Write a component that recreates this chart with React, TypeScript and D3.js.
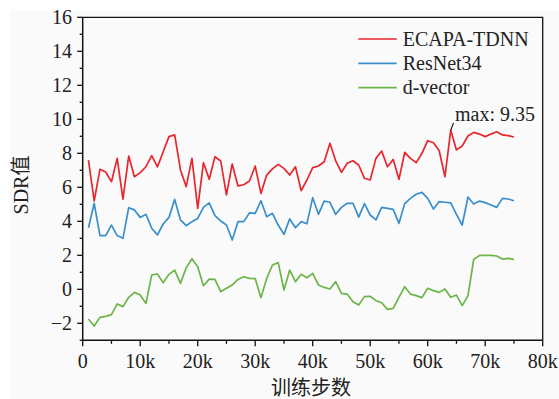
import React from "react";
import * as d3 from "d3";

// training steps (k), one point per 1k
const steps = d3.range(1, 76).map((k) => k * 1000);

const ecapa = [
  7.6, 5.2, 7.06, 6.9, 6.33, 7.7, 5.3, 7.84, 6.62, 6.86, 7.21, 7.86, 7.2, 8.09, 8.98,
  9.08, 7.02, 6.04, 7.7, 4.76, 7.45, 6.47, 7.8, 7.55, 5.55, 7.37, 6.08, 6.15, 6.37, 7.25,
  5.64, 6.72, 7.08, 7.35, 7.11, 6.72, 7.21, 5.8, 6.43, 7.16, 7.25, 7.5, 8.59, 7.56, 6.88,
  7.41, 7.56, 7.31, 6.53, 6.43, 7.7, 8.13, 7.21, 7.64, 6.47, 8.05, 7.7, 7.45, 8.0, 8.74,
  8.62, 8.15, 6.62, 9.35, 8.2, 8.43, 9.02, 9.23, 9.13, 8.98, 9.13, 9.27, 9.08, 9.04, 8.96,
];

const resnet = [
  3.62, 5.06, 3.16, 3.16, 3.78, 3.16, 3.0, 4.8, 4.67, 4.23, 4.41, 3.59, 3.2, 3.84, 4.23,
  5.29, 4.08, 3.74, 3.98, 4.17, 4.82, 5.08, 4.33, 4.02, 3.78, 2.9, 3.98, 3.98, 4.49, 4.47,
  5.21, 4.27, 4.47, 3.78, 3.23, 4.14, 3.62, 3.98, 3.86, 5.39, 4.41, 5.19, 5.12, 4.41, 4.82,
  5.06, 5.06, 4.25, 5.04, 4.37, 4.08, 4.82, 4.76, 4.7, 3.88, 5.04, 5.35, 5.59, 5.7, 5.35,
  4.72, 5.16, 5.12, 5.08, 4.41, 3.78, 5.43, 5.02, 5.19, 5.1, 4.96, 4.82, 5.35, 5.31, 5.21,
];

const dvector = [
  -1.75, -2.16, -1.65, -1.59, -1.49, -0.86, -1.02, -0.47, -0.18, -0.34, -0.83, 0.84, 0.9,
  0.39, 0.88, 1.13, 0.35, 1.27, 1.8, 1.33, 0.21, 0.6, 0.58, -0.14, 0.06, 0.25, 0.58, 0.74,
  0.64, 0.63, -0.49, 0.64, 1.43, 1.57, -0.04, 1.13, 0.45, 0.88, 0.68, 0.94, 0.25, 0.11,
  0.02, 0.45, -0.24, -0.28, -0.73, -0.92, -0.43, -0.41, -0.67, -0.79, -1.18, -1.12, -0.47,
  0.15, -0.28, -0.37, -0.49, 0.06, -0.08, -0.18, 0.02, -0.47, -0.34, -0.96, -0.39, 1.76,
  1.99, 1.99, 1.99, 1.96, 1.78, 1.82, 1.76,
];

const series = [
  { name: "ECAPA-TDNN", values: ecapa, color: "#e8262d" },
  { name: "ResNet34", values: resnet, color: "#3a8fcb" },
  { name: "d-vector", values: dvector, color: "#6cb548" },
];

const xTicks = [0, 10000, 20000, 30000, 40000, 50000, 60000, 70000, 80000];
const yTicks = [-2, 0, 2, 4, 6, 8, 10, 12, 14, 16];

const W = 559;
const H = 399;
const font = "'Times New Roman', 'Liberation Serif', 'DejaVu Serif', 'Noto Sans CJK SC', serif";

export default function App() {
  const x = d3.scaleLinear().domain([0, 80000]).range([82.7, 542.7]);
  const y = d3.scaleLinear().domain([-3, 16]).range([340.3, 17.3]);
  const [x0, x1] = x.range();
  const [yb, yt] = y.range();

  const line = d3
    .line<number>()
    .x((_, i) => x(steps[i]))
    .y((d) => y(d));

  const xMinor = d3.range(0, 80001, 5000);
  const yMinor = d3.range(-3, 17, 1);

  const maxIdx = d3.maxIndex(ecapa);
  const mx = x(steps[maxIdx]);
  const my = y(ecapa[maxIdx]);

  const txt = { fontFamily: font, fontSize: 20, fill: "#222" };

  return (
    <svg width={W} height={H} style={{ position: "absolute", left: 0, top: 0 }}>
      <rect x={0} y={0} width={W} height={H} fill="#fff" />
      <rect x={10} y={11} width={W - 10} height={H - 11} fill="#fafafa" />

      {/* lines */}
      {series.map((s) => (
        <path
          key={s.name}
          d={line(s.values) || ""}
          fill="none"
          stroke={s.color}
          strokeWidth={1.7}
          strokeLinejoin="round"
        />
      ))}

      {/* frame */}
      <path d={`M${x0},${yt}H${x1}V${yb}`} fill="none" stroke="#111" strokeWidth={1.3} />
      <line x1={x0} x2={x1} y1={yb} y2={yb} stroke="#111" strokeWidth={1.5} />
      <line x1={x0} x2={x0} y1={yt} y2={yb} stroke="#111" strokeWidth={1.5} />

      {/* x ticks */}
      {xMinor.map((t) => (
        <line
          key={"xm" + t}
          x1={x(t)}
          x2={x(t)}
          y1={yb}
          y2={yb + (t % 10000 === 0 ? 6 : 3.5)}
          stroke="#111"
          strokeWidth={1.3}
        />
      ))}
      {xTicks.map((t) => (
        <text key={"xt" + t} x={x(t)} y={368} textAnchor="middle" style={txt}>
          {t === 0 ? "0" : `${t / 1000}k`}
        </text>
      ))}

      {/* y ticks */}
      {yMinor.map((t) => (
        <line
          key={"ym" + t}
          x1={x0}
          x2={x0 - (t % 2 === 0 ? 5.5 : 3)}
          y1={y(t)}
          y2={y(t)}
          stroke="#111"
          strokeWidth={1.3}
        />
      ))}
      {yTicks.map((t) => (
        <text key={"yt" + t} x={72} y={y(t)} dy="0.34em" textAnchor="end" style={txt}>
          {t < 0 ? `\u2212${-t}` : t}
        </text>
      ))}

      {/* axis titles */}
      <text x={311} y={395} textAnchor="middle" style={txt}>
        训练步数
      </text>
      <text transform="translate(28,185) rotate(-90)" textAnchor="middle" style={txt}>
        SDR值
      </text>

      {/* legend */}
      {series.map((s, i) => (
        <g key={"lg" + s.name} transform={`translate(0,${39 + i * 24.3})`}>
          <line x1={358.3} x2={396.7} y1={0} y2={0} stroke={s.color} strokeWidth={1.7} />
          <text x={402.7} y={0} dy="0.33em" style={txt}>
            {s.name}
          </text>
        </g>
      ))}

      {/* max annotation */}
      <line x1={mx} y1={my} x2={mx + 2.8} y2={my - 7.5} stroke="#111" strokeWidth={1.2} />
      <text x={455} y={120.5} style={txt}>
        max: {ecapa[maxIdx].toFixed(2)}
      </text>
    </svg>
  );
}
